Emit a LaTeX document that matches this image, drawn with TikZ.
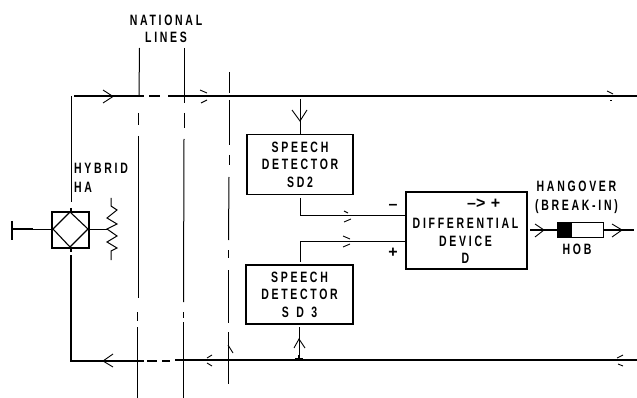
\documentclass[tikz,border=0pt]{standalone}
\usepackage{fontspec}
\setmainfont{Liberation Sans}
\newfontfamily\dfont[FakeStretch=0.7,LetterSpace=18]{Liberation Sans}
\newfontfamily\dfontw[FakeStretch=0.7,LetterSpace=50]{Liberation Sans}
\newfontfamily\sfont{Liberation Sans}
\tikzset{
  x=1pt,y=-1pt,
  lab/.style={font=\dfont\bfseries\fontsize{15}{17.5}\selectfont,align=center,inner sep=0pt,text=black},
  sgnlab/.style={font=\sfont\bfseries\fontsize{16}{16}\selectfont,inner sep=0pt,text=black},
  wire/.style={line width=1.1pt,black},
  thinw/.style={line width=0.8pt,black},
  vline/.style={line width=1pt,black},
  chev/.style={line width=0.9pt,black},
  boxn/.style={draw=black,line width=1.2pt,fill=white,inner sep=0pt},
}
\begin{document}
\begin{tikzpicture}
\useasboundingbox (0,0) rectangle (637,398);
% junctions
\coordinate (tl) at (71,96);
\coordinate (bl) at (71,361);
\coordinate (tr) at (637,96);
\coordinate (br) at (637,360);
% main wires
\draw[wire] (74,96) -- (144,96);
\draw[wire] (149,96) -- (160,96);
\draw[wire] (168,96) -- (tr);
\draw[wire] (74,361) -- (144,361);
\draw[wire] (147,361) -- (157,361);
\draw[wire] (162,361) -- (170,361);
\draw[wire] (175,360) -- (br);
% national lines
\draw[vline] (139.5,48) -- (139,96);
\draw[vline] (138.5,113) -- (138.5,125);
\draw[vline] (138.5,136) -- (138.5,298);
\draw[vline] (137.5,312) -- (137.5,321);
\draw[vline] (137,327) -- (137,398);
\draw[vline] (184.5,48) -- (184.5,103);
\draw[vline] (184.5,113) -- (184.5,128);
\draw[vline] (184,139) -- (183.5,302);
\draw[vline] (183.5,312) -- (183.5,318);
\draw[vline] (183,322) -- (183,398);
\draw[vline] (229.5,72) -- (229.5,93);
\draw[vline] (229.5,100) -- (229.5,145);
\draw[vline] (229,155) -- (229,165);
\draw[vline] (229,177) -- (228.5,240);
\draw[vline] (228.5,250) -- (228.5,258);
\draw[vline] (228,270) -- (228,323);
\draw[vline] (228,332) -- (228,384);
% hybrid
\node[boxn,minimum width=37pt,minimum height=36pt] (ha) at (70.5,230) {};
\coordinate (hn) at (70,212);
\coordinate (he) at (88,229);
\coordinate (hs) at (70,247);
\coordinate (hw) at (53,229);
\coordinate (tb) at (12,229);
\coordinate (rr) at (107,229);
\draw[line width=1.1pt] (hn) -- (he) -- (hs) -- (hw) -- cycle;
\draw[thinw] (tl) -- (71,202);
\draw[line width=1.1pt] (71,208) -- (ha.north -| 71,0);
\draw[line width=1.2pt] (71,255) -- (bl) -- (74,361);
\draw[line width=1.1pt] (71,248) -- (71,252);
\draw[line width=1.8pt] (12,221) -- (12,240);
\draw[line width=1.8pt] (tb) -- (33,229);
\draw[thinw] (33,229) -- (hw);
\draw[thinw] (he) -- (rr);
\draw[line width=1pt] (111,198) -- (111,206) -- (117,210) -- (107,218) -- (117,224) -- (rr) -- (117,236) -- (107,242) -- (117,248) -- (111,251) -- (111,260);
% speech detectors
\node[boxn,minimum width=106pt,minimum height=60pt,lab] (sd2) at (300,164.5) {SPEECH\\DETECTOR\\SD2};
\node[boxn,minimum width=107pt,minimum height=59pt,lab] (sd3) at (299.5,294.5) {SPEECH\\DETECTOR\\{\dfontw\bfseries SD3}};
\node[boxn,minimum width=121pt,minimum height=77pt] (diff) at (466.5,230.5) {};
\node[lab] (difft) at (465.5,241) {DIFFERENTIAL\\DEVICE\\D};
\node[sgnlab,anchor=west] (sgn) at (467,204) {\textendash{}>\,\,+};
% connectors
\coordinate (j2) at (300,215);
\coordinate (j3) at (300,241);
\draw[thinw] (300,198) -- (j2) -- (j2 -| diff.west);
\draw[thinw] (300,262) -- (j3) -- (j3 -| diff.west);
\draw[thinw] (300,99) -- (sd2.north);
\draw[thinw] (299,327) -- (299,360);
\draw[line width=1.4pt] (299,355) -- (299,360);
\draw[line width=1.2pt] (295,359) -- (303,359);
% minus and plus
\node[sgnlab] (mn) at (393,207) {\textendash};
\node[sgnlab] (pl) at (393,253) {+};
% chevrons
\draw[chev] (103,90) -- (113,96.5) -- (103,103);
\draw[chev] (200,90) -- (207,93);
\draw[chev] (201,103) -- (207,100);
\draw[chev] (292,110) -- (300,121) -- (307,110);
\draw[chev] (344,211) -- (348,213);
\draw[chev] (344,222) -- (351,219);
\draw[chev] (343,236) -- (350,239);
\draw[chev] (343,247) -- (350,244);
\draw[chev] (294,348) -- (299,339) -- (305,348);
\draw[chev] (113,354) -- (103,361) -- (113,367);
\draw[chev] (212,355) -- (207,358);
\draw[chev] (207,363) -- (212,366);
\draw[chev] (228,345) -- (233,353);
\draw[chev] (607,91) -- (613,94);
\draw[chev] (610,100) -- (612,100);
\draw[chev] (623,355) -- (617,358);
\draw[chev] (618,364) -- (623,366);
% HOB
\node[draw=black,line width=1pt,fill=white,minimum width=46pt,minimum height=14pt,inner sep=0pt] (hob) at (580,230) {};
\fill[black] (hob.north west) rectangle (572,237);
\coordinate (hi) at (530,230);
\coordinate (ho) at (634,230);
\draw[wire] (hi) -- (hob.west);
\draw[wire] (hob.east) -- (ho);
\draw[chev] (535,224) -- (544,230) -- (535,237);
\draw[chev] (612,224) -- (622,230) -- (612,237);
% labels
\node[lab] (nl) at (166,29) {NATIONAL\\LINES};
\node[lab,align=left,anchor=west] (hy) at (74,178) {HYBRID\\[2pt]HA};
\node[lab] (hg) at (576.5,197.5) {HANGOVER\\[1pt](BREAK-IN)};
\node[lab] (hb) at (577,249) {HOB};
\end{tikzpicture}
\end{document}
